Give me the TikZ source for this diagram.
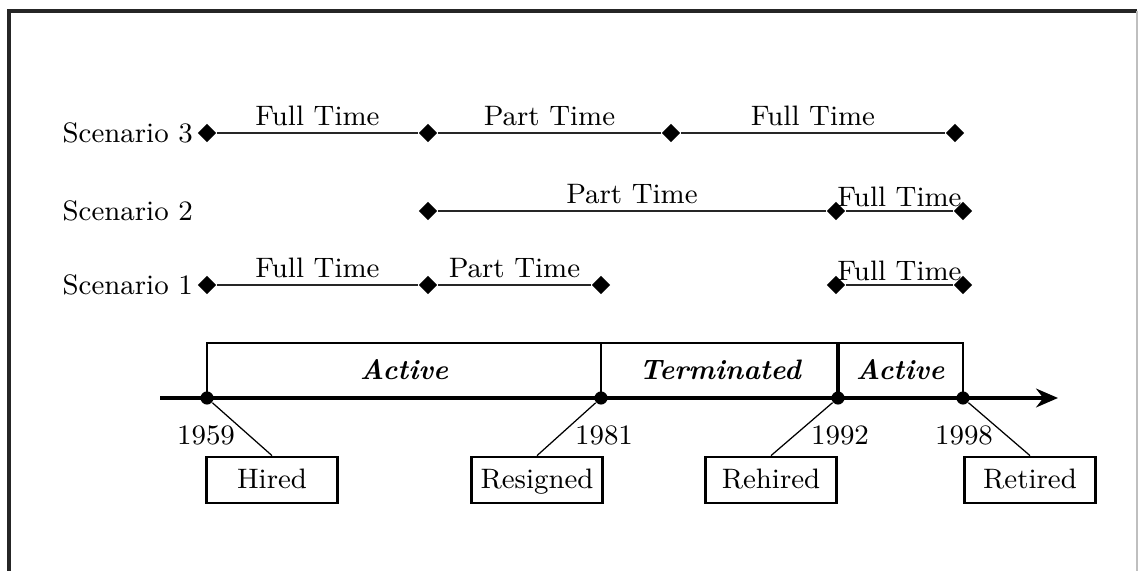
\documentclass[tikz,border=0pt]{standalone}
\usetikzlibrary{arrows.meta, shapes.geometric}

\begin{document}
\begin{tikzpicture}[x=0.32pt, y=-0.32pt, >={Stealth[length=7pt, width=6pt]},
  every node/.style={font=\fontsize{9}{11}\selectfont},
  evt/.style={diamond, fill, inner sep=0pt, minimum size=6pt},
  dot/.style={circle, fill, inner sep=0pt, minimum size=4.2pt},
  span/.style={draw=black!85, line width=0.75pt},
  phase/.style={font=\fontsize{9}{11}\selectfont\bfseries\itshape},
  eventbox/.style={draw, line width=0.9pt, minimum width=41.9pt, minimum height=14.7pt, inner sep=1pt, text height=1.6ex, text depth=0.4ex}]
  \useasboundingbox (0,0) rectangle (1139,571);
  % frame
  \draw[line width=1pt, black!85] (9,571) -- (9,11) -- (1137,11);
  \draw[line width=0.4pt, black!25] (1137,11) -- (1137,571);

  % scenarios
  \node[anchor=west, inner sep=0pt] (sc3) at (62,133) {Scenario 3};
  \node[anchor=west, inner sep=0pt] (sc2) at (62,211) {Scenario 2};
  \node[anchor=west, inner sep=0pt] (sc1) at (62,285) {Scenario 1};

  \node[evt] (s3a) at (207,133) {};
  \node[evt] (s3b) at (428,133) {};
  \node[evt] (s3c) at (671,133) {};
  \node[evt] (s3d) at (955,133) {};
  \draw[span] (s3a) -- (s3b) node[midway, above, inner sep=2pt] (s3ft) {Full Time};
  \draw[span] (s3b) -- (s3c) node[midway, above, inner sep=2pt] (s3pt) {Part Time};
  \draw[span] (s3c) -- (s3d) node[midway, above, inner sep=2pt] (s3ft2) {Full Time};

  \node[evt] (s2a) at (428,211) {};
  \node[evt] (s2b) at (836,211) {};
  \node[evt] (s2c) at (963,211) {};
  \draw[span] (s2a) -- (s2b) node[midway, above, inner sep=2pt] (s2pt) {Part Time};
  \draw[span] (s2b) -- (s2c) node[midway, above, inner sep=1pt] (s2ft) {Full Time};

  \node[evt] (s1a) at (207,285) {};
  \node[evt] (s1b) at (428,285) {};
  \node[evt] (s1c) at (601,285) {};
  \node[evt] (s1d) at (836,285) {};
  \node[evt] (s1e) at (963,285) {};
  \draw[span] (s1a) -- (s1b) node[midway, above, inner sep=2pt] (s1ft) {Full Time};
  \draw[span] (s1b) -- (s1c) node[midway, above, inner sep=2pt] (s1pt) {Part Time};
  \draw[span] (s1d) -- (s1e) node[midway, above, inner sep=1pt] (s1ft2) {Full Time};

  % timeline
  \coordinate (axL) at (160,398);
  \coordinate (axR) at (1058,398);
  \draw[line width=1pt, ->] (axL) -- (axR);
  \node[dot] (y59) at (207,398) {};
  \node[dot] (y81) at (601,398) {};
  \node[dot] (y92) at (838,398) {};
  \node[dot] (y98) at (963,398) {};
  \draw[line width=0.9pt] (y59.center) -- ++(0,-55) -| (y98.center);
  \draw[line width=0.9pt] (y81.center) -- ++(0,-55);
  \draw[line width=1.2pt] (y92.center) -- ++(0,-55);
  \node[phase] (act1) at (404,370) {Active};
  \node[phase] (term) at (720,370) {Terminated};
  \node[phase] (act2) at (900,370) {Active};

  \node (t59) at (206,435) {1959};
  \node (t81) at (604,435) {1981};
  \node (t92) at (840,435) {1992};
  \node (t98) at (964,435) {1998};

  \node[eventbox] (hired) at (272,480) {Hired};
  \node[eventbox] (resigned) at (537,480) {Resigned};
  \node[eventbox] (rehired) at (771,480) {Rehired};
  \node[eventbox] (retired) at (1030,480) {Retired};
  \draw[line width=0.4pt] (y59) -- (hired.north);
  \draw[line width=0.4pt] (y81) -- (resigned.north);
  \draw[line width=0.4pt] (y92) -- (rehired.north);
  \draw[line width=0.4pt] (y98) -- (retired.north);
\end{tikzpicture}
\end{document}
